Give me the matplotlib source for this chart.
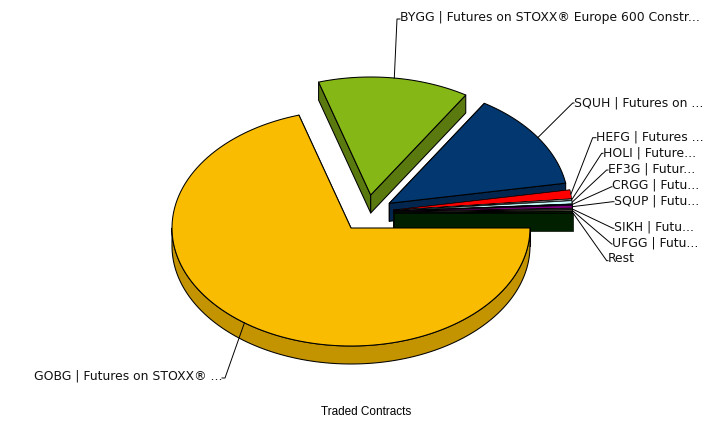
import numpy as np
import matplotlib
matplotlib.use("Agg")
import matplotlib.pyplot as plt

# share of traded contracts per product, in percent
labels = [
    "GOBG | Futures on STOXX® ...",
    "BYGG | Futures on STOXX® Europe 600 Constr...",
    "SQUH | Futures on ...",
    "HEFG | Futures ...",
    "HOLI | Future...",
    "EF3G | Futur...",
    "CRGG | Futu...",
    "SQUP | Futu...",
    "SIKH | Futu...",
    "UFGG | Futu...",
    "Rest",
]
shares = [70.3, 13.61, 13.36, 1.2, 0.17, 0.42, 0.11, 0.36, 0.14, 0.14, 0.19]

top_colors = ["#F9BC00", "#85B716", "#03376F", "#FF0000", "#FFFFFF", "#CCFFFF",
              "#000080", "#800080", "#808080", "#C0B090", "#002400"]
side_colors = ["#C49300", "#5A7A10", "#02264D", "#C00000", "#C0C0C0", "#99CCCC",
               "#000060", "#600060", "#606060", "#908468", "#002000"]

# pixel layout of the pie
center_x, center_y = 351, 228
radius_x, radius_y, depth = 179, 118, 18
offsets_x = [0, 19.7, 38.3, 42.5, 42.5, 42.5, 42.5, 42.5, 42.5, 42.5, 42.5]
offsets_y = [0, -33, -24.7, -18, -17.6, -17.2, -17, -16.5, -16, -15.5, -15]

# text start, text y, elbow of the leader line
label_x = [222, 400, 574, 596, 603, 608, 612, 614, 614, 612, 608]
label_y = [376, 18, 103, 137, 153, 169, 185, 201, 227, 243, 259]
elbow_x = [225, 397, 572.7, 592.7, 601.7, 606.7, 611.7, 612.7, 613, 611.7, 606.7]
elbow_y = [378, 19, 103, 137.7, 153.3, 170, 186.7, 201.7, 228.3, 244, 260.7]


def arc(cx, cy, t0, t1):
    t = np.radians(np.linspace(t0, t1, 120))
    return cx + radius_x * np.cos(t), cy - radius_y * np.sin(t)


def draw_slice(cx, cy, t0, t1, top, side, lw):
    edge = {"edgecolor": "black", "linewidth": lw, "joinstyle": "round"}

    # cut faces first (upper edge, then lower), the top surface hides the rest
    for t in (t0, t1):
        ex, ey = arc(cx, cy, t, t)[0][0], arc(cx, cy, t, t)[1][0]
        ax.fill([cx, ex, ex, cx], [cy, ey, ey + depth, cy + depth], facecolor=side, **edge)

    # outer wall, only the part facing the viewer
    lo, hi = min(t0, t1), max(t0, t1)
    lo_front, hi_front = max(lo, 180), min(hi, 360)
    if lo_front < hi_front:
        wx, wy = arc(cx, cy, lo_front, hi_front)
        ax.fill(np.r_[wx, wx[::-1]], np.r_[wy, wy[::-1] + depth], facecolor=side, **edge)

    x, y = arc(cx, cy, t0, t1)
    ax.fill(np.r_[cx, x], np.r_[cy, y], facecolor=top, **edge)


fig = plt.figure(figsize=(7.26, 4.21), dpi=100)
ax = fig.add_axes([0, 0, 1, 1])
ax.set_xlim(0, 726)
ax.set_ylim(421, 0)
ax.axis("off")

# slices run clockwise from 3 o'clock
total = sum(shares)
sweep = np.array(shares) / total * 360
ends = -np.cumsum(sweep)
starts = np.r_[0, ends[:-1]]

# painter's order: green, blue, the small stack back to front, gold last
for i in [1, 2, 3, 4, 5, 6, 7, 8, 9, 10, 0]:
    draw_slice(center_x + offsets_x[i], center_y + offsets_y[i],
               starts[i] % 360 if i else 360, ends[i] % 360 if i < 10 else 0,
               top_colors[i], side_colors[i], 0.75 if i < 3 else 0.45)

# leader lines and labels
for i, name in enumerate(labels):
    mid = (starts[i] + ends[i]) / 2
    sx, sy = arc(center_x + offsets_x[i], center_y + offsets_y[i], mid, mid)
    ax.plot([sx[0], elbow_x[i], label_x[i]], [sy[0], elbow_y[i], elbow_y[i]],
            color="black", linewidth=0.7, zorder=5)
    ax.text(label_x[i], label_y[i], name, fontsize=8.9, family="DejaVu Sans",
            color="#111111", ha="right" if i == 0 else "left", va="center", zorder=6)

ax.text(366, 412, "Traded Contracts", fontsize=8.5, family="Liberation Sans",
        color="black", ha="center", va="center")

fig.savefig("out.png", dpi=100)
